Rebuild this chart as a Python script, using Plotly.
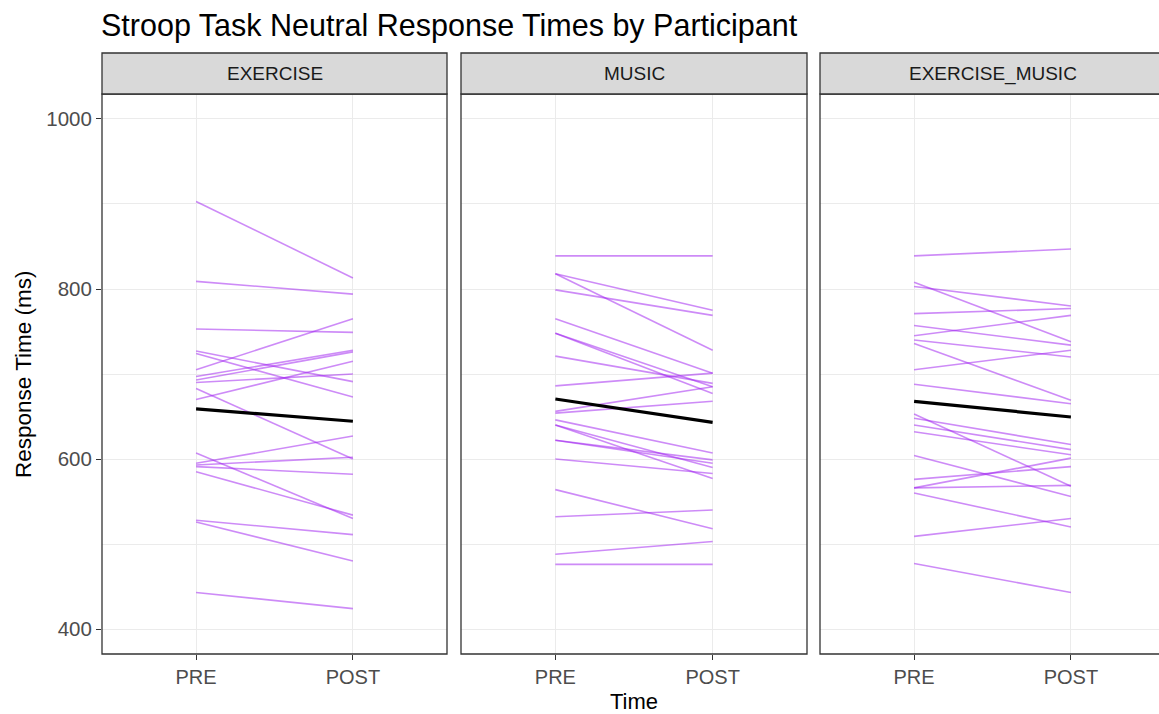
import plotly.graph_objects as go

categories = ["PRE", "POST"]
conditions = ["EXERCISE", "MUSIC", "EXERCISE_MUSIC"]

exercise_pre = [903, 809, 753, 705, 727, 724, 697, 693, 670, 683, 607, 595, 593, 591, 585, 528, 526, 443, 690]
exercise_post = [813, 794, 749, 765, 691, 673, 728, 726, 715, 600, 530, 627, 602, 582, 534, 511, 480, 424, 700]

music_pre = [839, 818, 818, 799, 765, 748, 748, 721, 686, 656, 654, 646, 640, 640, 622, 622, 600, 564, 532, 488, 476]
music_post = [839, 775, 728, 769, 701, 685, 677, 689, 701, 685, 668, 607, 577, 590, 599, 595, 583, 518, 540, 503, 476]

exmusic_pre = [839, 808, 803, 771, 757, 745, 736, 740, 705, 688, 653, 648, 640, 632, 604, 576, 566, 566, 560, 509, 477]
exmusic_post = [847, 738, 780, 777, 734, 769, 669, 720, 728, 665, 568, 617, 611, 605, 556, 591, 601, 569, 520, 530, 443]

y_ticks = [400, 600, 800, 1000]

panel_data = [(exercise_pre, exercise_post), (music_pre, music_post), (exmusic_pre, exmusic_post)]

W, H = 1159, 714
L, R, T, B = 102, 0, 94, 60
pw = W - L - R
ph = H - T - B


def px_x(p):
    return (p - L) / pw


domains = [[px_x(102), px_x(447)], [px_x(461), px_x(807)], [px_x(820), 1.0]]
x_ranges = [[-0.6, 1.6], [-0.6, 1.6], [-0.6, 1.6 - 6 / (345 / 2.2)]]
y_range = [370.6, 1029.4]

fig = go.Figure()
purple = "rgba(160,32,240,0.52)"

for i, (pre, post) in enumerate(panel_data):
    xa = "x" if i == 0 else f"x{i+1}"
    ya = "y" if i == 0 else f"y{i+1}"
    for a, b in zip(pre, post):
        fig.add_trace(go.Scatter(x=categories, y=[a, b], mode="lines",
                                 line=dict(color=purple, width=1.6),
                                 xaxis=xa, yaxis=ya, showlegend=False, hoverinfo="skip"))
    mean_pre = sum(pre) / len(pre)
    mean_post = sum(post) / len(post)
    fig.add_trace(go.Scatter(x=categories, y=[mean_pre, mean_post], mode="lines",
                             line=dict(color="black", width=3.2),
                             xaxis=xa, yaxis=ya, showlegend=False, hoverinfo="skip"))

layout = dict(
    width=W, height=H,
    margin=dict(l=L, r=R, t=T, b=B),
    paper_bgcolor="white", plot_bgcolor="white",
    font=dict(family="Liberation Sans, Arial, sans-serif", color="#4d4d4d"),
    showlegend=False,
)

for i in range(3):
    xk = "xaxis" if i == 0 else f"xaxis{i+1}"
    yk = "yaxis" if i == 0 else f"yaxis{i+1}"
    ya = "y" if i == 0 else f"y{i+1}"
    xa = "x" if i == 0 else f"x{i+1}"
    layout[xk] = dict(
        domain=domains[i], anchor=ya, type="category",
        categoryorder="array", categoryarray=categories,
        range=x_ranges[i], showgrid=True, gridcolor="#ebebeb", gridwidth=1.1,
        ticks="outside", ticklen=5, tickcolor="#333333", tickwidth=1.1,
        tickfont=dict(size=20, color="#4d4d4d"), showline=False, zeroline=False,
        fixedrange=True,
    )
    layout[yk] = dict(
        domain=[0, 1], anchor=xa, range=y_range,
        tickvals=y_ticks, showticklabels=(i == 0),
        ticks="outside" if i == 0 else "", ticklen=5, tickcolor="#333333", tickwidth=1.1,
        tickfont=dict(size=20.5, color="#4d4d4d"),
        showgrid=True, gridcolor="#ebebeb", gridwidth=1.1,
        minor=dict(tickvals=[500, 700, 900], showgrid=True, gridcolor="#ebebeb", gridwidth=0.6, ticks=""),
        zeroline=False, showline=False, fixedrange=True,
    )
    if i > 0:
        layout[yk]["matches"] = "y"

fig.update_layout(**layout)

strip_top = 1 + (94 - 53) / ph
shapes = []
annotations = []
for i, d in enumerate(domains):
    x1 = d[1] if i < 2 else px_x(1166)
    shapes.append(dict(type="rect", xref="paper", yref="paper", x0=d[0], x1=x1, y0=0, y1=1,
                       line=dict(color="#333333", width=1.3), fillcolor="rgba(0,0,0,0)", layer="above"))
    shapes.append(dict(type="rect", xref="paper", yref="paper", x0=d[0], x1=x1, y0=1, y1=strip_top,
                       line=dict(color="#333333", width=1.3), fillcolor="#d9d9d9", layer="above"))
    annotations.append(dict(text=conditions[i], xref="paper", yref="paper",
                            x=(d[0] + x1) / 2, y=(1 + strip_top) / 2, xanchor="center", yanchor="middle",
                            showarrow=False, font=dict(size=19, color="#1a1a1a")))

annotations.append(dict(text="Stroop Task Neutral Response Times by Participant", xref="paper", yref="paper",
                        x=px_x(99), y=1 + (T - 25) / ph, xanchor="left", yanchor="middle",
                        showarrow=False, font=dict(size=30.5, color="black")))
annotations.append(dict(text="Time", xref="paper", yref="paper",
                        x=px_x(634), y=-(701 - 654) / ph, xanchor="center", yanchor="middle",
                        showarrow=False, font=dict(size=22, color="black")))
annotations.append(dict(text="Response Time (ms)", xref="paper", yref="paper",
                        x=px_x(23), y=0.5, xanchor="center", yanchor="middle", textangle=-90,
                        showarrow=False, font=dict(size=22.5, color="black")))

fig.update_layout(shapes=shapes, annotations=annotations)
fig.write_html("out.html", config={"displayModeBar": False},
               post_script="document.body.style.margin='0';document.body.style.overflow='hidden';")
